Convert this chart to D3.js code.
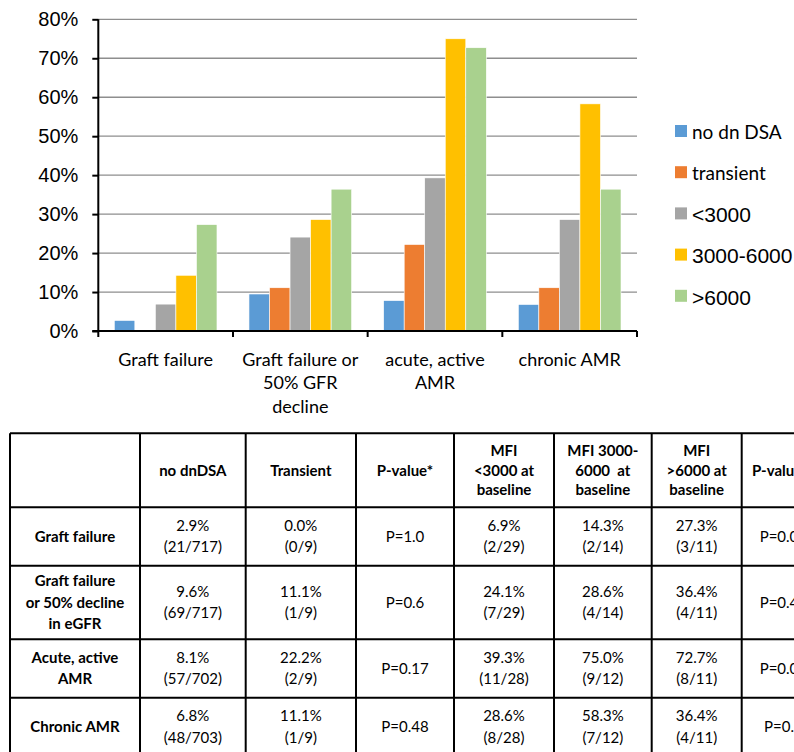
<!DOCTYPE html>
<html>
<head>
<meta charset="utf-8">
<script src="https://cdn.jsdelivr.net/npm/d3@7"></script>
<style>
  body { margin: 0; background: #fff; }
  svg { display: block; }
</style>
</head>
<body>
<div id="chart"></div>
<script>
// chart data
const categories = ["Graft failure", "Graft failure or\n50% GFR\ndecline", "acute, active\nAMR", "chronic AMR"];
const seriesNames = ["no dn DSA", "transient", "<3000", "3000-6000", ">6000"];
const noDnDSA = [2.7, 9.5, 7.8, 6.8];
const transient = [0, 11.1, 22.2, 11.1];
const mfiLow = [6.9, 24.1, 39.3, 28.6];
const mfiMid = [14.3, 28.6, 75.0, 58.3];
const mfiHigh = [27.3, 36.4, 72.7, 36.4];
const yTicks = [0, 10, 20, 30, 40, 50, 60, 70, 80];
const colors = ["#5b9bd5", "#ed7d31", "#a5a5a5", "#ffc000", "#a9d18e"];

// table data
const tableHeaders = ["", "no dnDSA", "Transient", "P-value*", "MFI\n<3000 at\nbaseline", "MFI 3000-\n6000  at\nbaseline", "MFI\n>6000 at\nbaseline", "P-value**"];
const rowLabels = ["Graft failure", "Graft failure\nor 50% decline\nin eGFR", "Acute, active\nAMR", "Chronic AMR"];
const colNoDn = ["2.9%\n(21/717)", "9.6%\n(69/717)", "8.1%\n(57/702)", "6.8%\n(48/703)"];
const colTransient = ["0.0%\n(0/9)", "11.1%\n(1/9)", "22.2%\n(2/9)", "11.1%\n(1/9)"];
const colP1 = ["P=1.0", "P=0.6", "P=0.17", "P=0.48"];
const colLow = ["6.9%\n(2/29)", "24.1%\n(7/29)", "39.3%\n(11/28)", "28.6%\n(8/28)"];
const colMid = ["14.3%\n(2/14)", "28.6%\n(4/14)", "75.0%\n(9/12)", "58.3%\n(7/12)"];
const colHigh = ["27.3%\n(3/11)", "36.4%\n(4/11)", "72.7%\n(8/11)", "36.4%\n(4/11)"];
const colP2 = ["P=0.06", "P=0.40", "P=0.06", "P=0.1"];

const svgWidth = 794, svgHeight = 752;
const plot = { left: 98.3, right: 637, top: 19.3, bottom: 331 };

const svg = d3.select("#chart").append("svg")
  .attr("width", svgWidth)
  .attr("height", svgHeight);

const seriesData = [noDnDSA, transient, mfiLow, mfiMid, mfiHigh];

const y = d3.scaleLinear().domain([0, 80]).range([plot.bottom, plot.top]);
const x0 = d3.scaleBand().domain(categories).range([plot.left, plot.right]);
const x1 = d3.scaleBand().domain(seriesNames).range([16, x0.bandwidth() - 16]);

// gridlines
svg.append("g")
  .selectAll("line")
  .data(yTicks.slice(1))
  .join("line")
  .attr("x1", plot.left).attr("x2", plot.right)
  .attr("y1", d => y(d)).attr("y2", d => y(d))
  .attr("stroke", "#8e8e8e")
  .attr("stroke-width", 1.3);

// bars
const groups = svg.append("g")
  .selectAll("g")
  .data(categories)
  .join("g")
  .attr("transform", d => `translate(${x0(d)},0)`);

groups.selectAll("rect")
  .data((c, ci) => seriesNames.map((s, si) => ({ s, si, v: seriesData[si][ci] })))
  .join("rect")
  .attr("x", d => x1(d.s))
  .attr("width", x1.bandwidth())
  .attr("y", d => y(d.v))
  .attr("height", d => y(0) - y(d.v))
  .attr("fill", d => colors[d.si])
  .attr("stroke", d => d.v > 0 ? "#ffffff" : "none")
  .attr("stroke-width", 0.6);

// y axis
const leftAxis = d3.axisLeft(y)
  .tickValues(yTicks)
  .tickFormat(d => d + "%")
  .tickSize(6)
  .tickPadding(14);

const yAxis = svg.append("g")
  .attr("transform", `translate(${plot.left},0)`)
  .call(leftAxis);
yAxis.select(".domain").attr("stroke", "#000").attr("stroke-width", 2).attr("d", `M0,${plot.top}V${plot.bottom + 1}`);
yAxis.selectAll(".tick line").attr("stroke", "#000").attr("stroke-width", 2);
yAxis.selectAll(".tick text")
  .attr("fill", "#000")
  .style("font-family", "'Liberation Sans', Arial, sans-serif")
  .style("font-size", "20px");

// x axis
const bottomAxis = d3.axisBottom(x0).tickSize(0).tickFormat("");
const xAxis = svg.append("g")
  .attr("transform", `translate(0,${plot.bottom})`)
  .call(bottomAxis);
xAxis.select(".domain").attr("stroke", "#000").attr("stroke-width", 2).attr("d", `M${plot.left - 6},0H${plot.right}`);

const boundaries = categories.map(c => x0(c)).concat([x0(categories[categories.length - 1]) + x0.bandwidth()]);
xAxis.selectAll(".bound")
  .data(boundaries)
  .join("line")
  .attr("class", "bound")
  .attr("x1", d => d).attr("x2", d => d)
  .attr("y1", 0).attr("y2", 6)
  .attr("stroke", "#000")
  .attr("stroke-width", 2);

// category labels
svg.append("g")
  .selectAll("text")
  .data(categories)
  .join("text")
  .attr("text-anchor", "middle")
  .style("font-family", "Lato, 'Open Sans', sans-serif")
  .style("font-size", "18px")
  .attr("fill", "#000")
  .each(function (d) {
    const t = d3.select(this);
    d.split("\n").forEach((line, i) => {
      t.append("tspan")
        .attr("x", x0(d) + x0.bandwidth() / 2)
        .attr("y", 359.5 + i * 23.6)
        .attr("dy", "0.35em")
        .text(line);
    });
  });

// legend
const legend = svg.append("g")
  .selectAll("g")
  .data(seriesNames)
  .join("g")
  .attr("transform", (d, i) => `translate(675,${131 + i * 41.2})`);

legend.append("rect")
  .attr("x", 0).attr("y", -6)
  .attr("width", 12).attr("height", 12)
  .attr("fill", (d, i) => colors[i]);

legend.append("text")
  .attr("x", 17)
  .attr("y", 1.5)
  .attr("dy", "0.35em")
  .attr("fill", "#000")
  .style("font-family", d => /^[<>0-9]/.test(d) ? "'Liberation Sans', Arial, sans-serif" : "Lato, sans-serif")
  .style("font-size", d => /^[<>0-9]/.test(d) ? "21px" : "19px")
  .text(d => d);

// table
const colEdges = [10, 140, 245.7, 356, 454, 554, 651.7, 741.7, 825];
const rowEdges = [433.3, 507.3, 565.7, 639.3, 697.7, 756];
const bodyCols = [rowLabels, colNoDn, colTransient, colP1, colLow, colMid, colHigh, colP2];

const table = svg.append("g");

function cellText(str, cx, cy, bold, lineH) {
  const lines = str.split("\n");
  const t = table.append("text")
    .attr("text-anchor", "middle")
    .attr("fill", "#000")
    .style("font-family", "Lato, 'Open Sans', sans-serif")
    .style("font-size", "15px")
    .style("font-weight", bold ? "bold" : "normal");
  lines.forEach((line, i) => {
    t.append("tspan")
      .attr("x", cx)
      .attr("y", cy + (i - (lines.length - 1) / 2) * lineH)
      .attr("dy", "0.35em")
      .style("white-space", "pre")
      .text(line);
  });
}

tableHeaders.forEach((h, ci) => {
  if (!h) return;
  cellText(h, (colEdges[ci] + colEdges[ci + 1]) / 2, (rowEdges[0] + rowEdges[1]) / 2, true, 19.8);
});

bodyCols.forEach((col, ci) => {
  col.forEach((v, ri) => {
    cellText(v, (colEdges[ci] + colEdges[ci + 1]) / 2, (rowEdges[ri + 1] + rowEdges[ri + 2]) / 2, ci === 0, 21.3);
  });
});

table.selectAll(".hline")
  .data(rowEdges)
  .join("line")
  .attr("class", "hline")
  .attr("x1", colEdges[0]).attr("x2", colEdges[colEdges.length - 1])
  .attr("y1", d => d).attr("y2", d => d)
  .attr("stroke", "#000").attr("stroke-width", 2);

table.selectAll(".vline")
  .data(colEdges)
  .join("line")
  .attr("class", "vline")
  .attr("x1", d => d).attr("x2", d => d)
  .attr("y1", rowEdges[0]).attr("y2", rowEdges[rowEdges.length - 1])
  .attr("stroke", "#000").attr("stroke-width", 2);
</script>
</body>
</html>
